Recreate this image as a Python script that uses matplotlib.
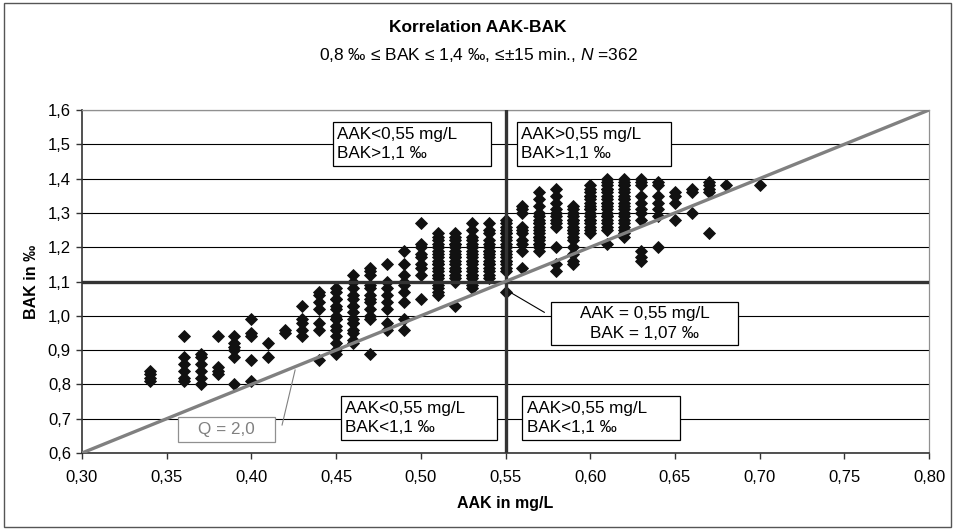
import numpy as np
import matplotlib
matplotlib.use('Agg')
import matplotlib.pyplot as plt
from matplotlib.patches import Rectangle
from matplotlib.ticker import FuncFormatter

plt.rcParams['font.family'] = ['Liberation Sans', 'DejaVu Sans']
plt.rcParams['mathtext.fontset'] = 'custom'
plt.rcParams['mathtext.rm'] = 'Liberation Sans'
plt.rcParams['mathtext.it'] = 'Liberation Sans:italic'

# AAK levels (mg/L) and the BAK values (per mille) measured at each level
aak_levels = [0.34, 0.36, 0.37, 0.38, 0.39, 0.40, 0.41, 0.42, 0.43, 0.44,
              0.45, 0.46, 0.47, 0.48, 0.49, 0.50, 0.51, 0.52, 0.53, 0.54,
              0.55, 0.56, 0.57, 0.58, 0.59, 0.60, 0.61, 0.62, 0.63, 0.64,
              0.65, 0.66, 0.67, 0.68, 0.70]
bak_values = [
    [0.84, 0.83, 0.82, 0.81],
    [0.94, 0.88, 0.86, 0.84, 0.82, 0.81],
    [0.89, 0.88, 0.86, 0.84, 0.82, 0.80],
    [0.94, 0.85, 0.84, 0.83],
    [0.94, 0.92, 0.91, 0.90, 0.88, 0.80],
    [0.99, 0.95, 0.94, 0.87, 0.81],
    [0.92, 0.88],
    [0.96, 0.95],
    [1.03, 0.99, 0.98, 0.96, 0.94],
    [1.07, 1.06, 1.04, 1.02, 0.98, 0.96, 0.87],
    [1.08, 1.07, 1.05, 1.03, 1.02, 1.00, 0.99, 0.97, 0.96, 0.94, 0.92, 0.90, 0.89, 1.05, 0.99],
    [1.12, 1.10, 1.08, 1.06, 1.05, 1.03, 1.01, 0.99, 0.98, 0.96, 0.95, 0.93, 0.92, 1.03, 0.98],
    [1.14, 1.13, 1.12, 1.09, 1.08, 1.06, 1.05, 1.04, 1.02, 1.00, 0.99, 0.89],
    [1.15, 1.10, 1.08, 1.06, 1.04, 1.02, 0.98, 0.96],
    [1.19, 1.15, 1.12, 1.10, 1.09, 1.07, 1.04, 0.99, 0.96],
    [1.27, 1.21, 1.20, 1.18, 1.17, 1.15, 1.14, 1.12, 1.05],
    [1.24, 1.23, 1.22, 1.21, 1.20, 1.19, 1.18, 1.17, 1.16, 1.15, 1.14, 1.13, 1.12, 1.11, 1.10,
     1.09, 1.08, 1.07, 1.06, 1.20, 1.15, 1.12],
    [1.24, 1.23, 1.22, 1.21, 1.20, 1.19, 1.18, 1.17, 1.16, 1.15, 1.14, 1.13, 1.12, 1.11, 1.10,
     1.03, 1.21, 1.17, 1.13],
    [1.27, 1.25, 1.23, 1.22, 1.21, 1.20, 1.19, 1.18, 1.17, 1.16, 1.15, 1.14, 1.13, 1.12, 1.11,
     1.10, 1.09, 1.08, 1.20, 1.16, 1.12],
    [1.27, 1.25, 1.24, 1.22, 1.21, 1.20, 1.19, 1.18, 1.17, 1.16, 1.15, 1.14, 1.13, 1.12, 1.11,
     1.19, 1.15],
    [1.28, 1.27, 1.26, 1.25, 1.24, 1.23, 1.22, 1.21, 1.20, 1.19, 1.18, 1.17, 1.16, 1.15, 1.14,
     1.13, 1.07, 1.24, 1.20, 1.16],
    [1.32, 1.31, 1.30, 1.26, 1.25, 1.24, 1.22, 1.21, 1.19, 1.14],
    [1.36, 1.34, 1.32, 1.30, 1.29, 1.28, 1.27, 1.26, 1.25, 1.24, 1.23, 1.22, 1.21, 1.20, 1.19,
     1.27, 1.23, 1.21],
    [1.37, 1.35, 1.33, 1.31, 1.30, 1.29, 1.28, 1.27, 1.26, 1.20, 1.15, 1.13],
    [1.32, 1.31, 1.30, 1.29, 1.28, 1.27, 1.26, 1.25, 1.24, 1.23, 1.22, 1.20, 1.18, 1.16, 1.15,
     1.28, 1.25],
    [1.38, 1.37, 1.36, 1.35, 1.34, 1.33, 1.32, 1.31, 1.30, 1.29, 1.28, 1.27, 1.26, 1.25, 1.24,
     1.35, 1.31, 1.28],
    [1.40, 1.39, 1.38, 1.37, 1.36, 1.35, 1.34, 1.33, 1.32, 1.31, 1.30, 1.29, 1.28, 1.27, 1.26,
     1.25, 1.21, 1.37, 1.33, 1.29],
    [1.40, 1.39, 1.38, 1.37, 1.36, 1.35, 1.34, 1.33, 1.32, 1.31, 1.30, 1.29, 1.28, 1.27, 1.26,
     1.25, 1.24, 1.23, 1.38, 1.34, 1.30],
    [1.40, 1.39, 1.38, 1.35, 1.33, 1.31, 1.30, 1.28, 1.19, 1.17, 1.16],
    [1.39, 1.38, 1.35, 1.33, 1.31, 1.29, 1.20],
    [1.36, 1.35, 1.33, 1.28],
    [1.37, 1.36, 1.30],
    [1.39, 1.38, 1.37, 1.36, 1.24],
    [1.38],
    [1.38],
]

aak_limit = 0.55      # mg/L
bak_limit = 1.1       # per mille
q_factor = 2.0        # BAK/AAK conversion
marked_point = (0.55, 1.07)

x_ticks = [0.30, 0.35, 0.40, 0.45, 0.50, 0.55, 0.60, 0.65, 0.70, 0.75, 0.80]
y_ticks = [0.6, 0.7, 0.8, 0.9, 1.0, 1.1, 1.2, 1.3, 1.4, 1.5, 1.6]

aak = np.concatenate([[a] * len(b) for a, b in zip(aak_levels, bak_values)])
bak = np.concatenate(bak_values)

fig = plt.figure(figsize=(9.56, 5.30), dpi=100)
W, H = 956, 530
ax = fig.add_axes([82 / W, 77 / H, 847 / W, 343 / H])

# outer chart frame
fig.patches.append(Rectangle((4 / W, 3 / H), 947 / W, 524 / H, transform=fig.transFigure,
                             fill=False, ec='#555555', lw=1))

ax.set_xlim(x_ticks[0], x_ticks[-1])
ax.set_ylim(y_ticks[0], y_ticks[-1])
ax.set_xticks(x_ticks)
ax.set_yticks(y_ticks)
ax.xaxis.set_major_formatter(FuncFormatter(lambda v, _: f"{v:.2f}".replace('.', ',')))
ax.yaxis.set_major_formatter(FuncFormatter(lambda v, _: f"{v:.1f}".replace('.', ',')))
ax.tick_params(direction='out', length=4, width=1, color='#333333', labelsize=12)
ax.tick_params(axis='x', pad=8)
ax.tick_params(axis='y', pad=4)
ax.grid(axis='y', color='black', lw=0.8)
ax.set_axisbelow(True)
for side in ('left', 'bottom'):
    ax.spines[side].set_color('#333333')
    ax.spines[side].set_linewidth(1.2)
for side in ('top', 'right'):
    ax.spines[side].set_color('#909090')
    ax.spines[side].set_linewidth(0.9)

ax.plot(aak, bak, ls='none', marker='D', ms=6.5, color='#111111', mec='#111111', mew=0.6, zorder=3)

# limit lines and Q = 2,0 line
ax.axhline(bak_limit, color='#333333', lw=2.4, zorder=4)
ax.axvline(aak_limit, color='#333333', lw=2.4, zorder=4)
q_x = np.array(x_ticks[::len(x_ticks) - 1])
ax.plot(q_x, q_factor * q_x, color='#808080', lw=2.4, zorder=4, solid_capstyle='butt')


def text_box(x0, x1, y0, y1, text, ha='left', color='black', edge='black'):
    ax.add_patch(Rectangle((x0, y0), x1 - x0, y1 - y0, fc='white', ec=edge, lw=0.9, zorder=5))
    tx = x0 + 0.0025 if ha == 'left' else (x0 + x1) / 2
    ax.text(tx, (y0 + y1) / 2, text, ha=ha, va='center', multialignment=ha,
            fontsize=12.3, color=color, linespacing=1.4, zorder=6)


text_box(0.4483, 0.5416, 1.4367, 1.565, "AAK<0,55 mg/L\nBAK>1,1 ‰")
text_box(0.5569, 0.6479, 1.4367, 1.565, "AAK>0,55 mg/L\nBAK>1,1 ‰")
text_box(0.4530, 0.5451, 0.638, 0.766, "AAK<0,55 mg/L\nBAK<1,1 ‰")
text_box(0.5600, 0.6528, 0.638, 0.766, "AAK>0,55 mg/L\nBAK<1,1 ‰")
text_box(0.5770, 0.6874, 0.9149, 1.0402,
         f"AAK = {marked_point[0]:.2f} mg/L\nBAK = {marked_point[1]:.2f} ‰".replace('.', ','),
         ha='center')
text_box(0.3566, 0.4140, 0.6312, 0.7059, f"Q = {q_factor:.1f}".replace('.', ','),
         ha='center', color='#808080', edge='#909090')

# connector lines to the labelled point and the Q line
ax.plot([0.5538, 0.5729], [1.0656, 1.0102], color='black', lw=0.8, zorder=5)
ax.plot([0.4181, 0.4258], [0.6816, 0.842], color='#808080', lw=0.8, zorder=5)

ax.set_xlabel("AAK in mg/L", fontsize=11.5, fontweight='bold', labelpad=8)
ax.set_ylabel("BAK in ‰", fontsize=11.5, fontweight='bold', labelpad=6)

fig.text(478 / W, 1 - 28 / H, "Korrelation AAK-BAK", ha='center', va='center',
         fontsize=12.5, fontweight='bold')
fig.text(478 / W, 1 - 55 / H,
         "0,8 ‰ ≤ BAK ≤ 1,4 ‰, ≤±15 min., $\\mathit{N}$ =" + str(len(aak)),
         ha='center', va='center', fontsize=12.5)

fig.savefig('out.png', dpi=100)
